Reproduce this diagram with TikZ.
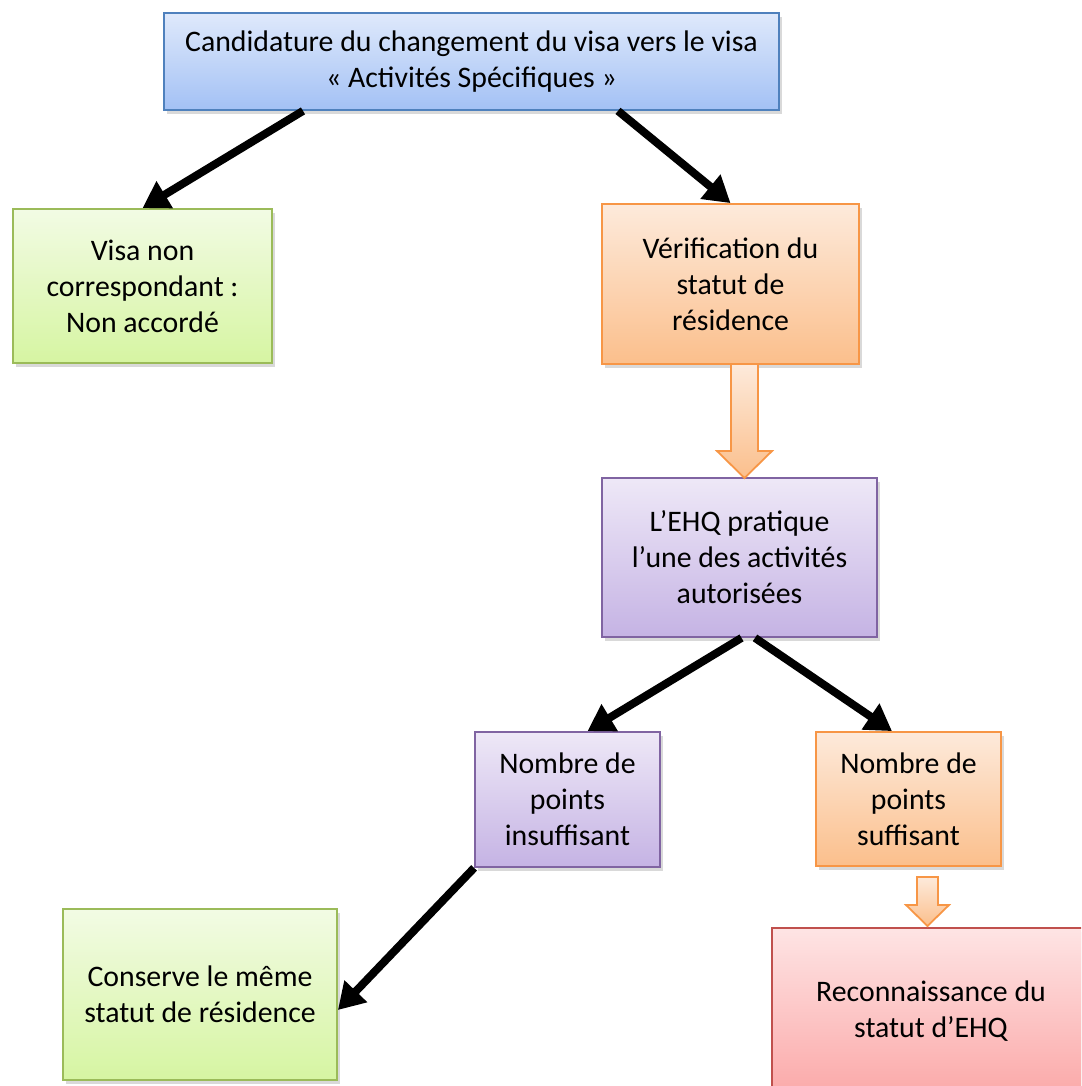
\documentclass[tikz,border=0pt]{standalone}
\usepackage{fontspec}
\setmainfont{Carlito}
\usetikzlibrary{arrows.meta,shadows}

\definecolor{blueT}{HTML}{DFE9FB}
\definecolor{blueB}{HTML}{A3C1F5}
\definecolor{blueL}{HTML}{4F81BD}
\definecolor{greenT}{HTML}{F2FBE4}
\definecolor{greenB}{HTML}{D6F5A2}
\definecolor{greenL}{HTML}{9BBB59}
\definecolor{orangeT}{HTML}{FDEADB}
\definecolor{orangeB}{HTML}{FBBF8C}
\definecolor{orangeL}{HTML}{F79646}
\definecolor{purpleT}{HTML}{EEE8F7}
\definecolor{purpleB}{HTML}{C5B3E4}
\definecolor{purpleL}{HTML}{8064A2}
\definecolor{redT}{HTML}{FEE4E4}
\definecolor{redB}{HTML}{FBA9A9}
\definecolor{redL}{HTML}{C0504D}

\tikzset{
  box/.style={draw,line width=0.9pt,inner sep=0pt,align=center,
    font=\fontsize{14.9pt}{18pt}\selectfont,
    drop shadow={shadow xshift=1.5pt,shadow yshift=-2pt,opacity=0.25,fill=black!60}},
  bluebox/.style={box,draw=blueL,top color=blueT,bottom color=blueB},
  greenbox/.style={box,draw=greenL,top color=greenT,bottom color=greenB},
  orangebox/.style={box,draw=orangeL,top color=orangeT,bottom color=orangeB},
  purplebox/.style={box,draw=purpleL,top color=purpleT,bottom color=purpleB},
  redbox/.style={box,draw=redL,top color=redT,bottom color=redB},
  flow/.style={line width=4pt,-{Triangle[length=13pt,width=15pt]}},
  blockarrow/.style={draw=orangeL,line width=0.9pt,line join=miter,top color=orangeT,bottom color=orangeB}
}

\begin{document}
\begin{tikzpicture}[x=0.5pt,y=-0.5pt]
\useasboundingbox (0,0) rectangle (1081,1086);
\clip (0,0) rectangle (1081,1086);

\node[bluebox,minimum width=307.5pt,minimum height=48.5pt] (cand) at (471.5,61.5)
  {Candidature du changement du visa vers le visa\\«~Activités Spécifiques~»};

\node[greenbox,minimum width=129.5pt,minimum height=77pt] (visa) at (142.5,286)
  {Visa non\\correspondant :\\Non accordé};
\node[orangebox,minimum width=128.5pt,minimum height=80pt] (verif) at (730.5,284)
  {Vérification du\\statut de\\résidence};

\node[purplebox,minimum width=137.5pt,minimum height=79.5pt] (ehq) at (739.5,557.5)
  {L’EHQ pratique\\l’une des activités\\autorisées};

\node[purplebox,minimum width=92.5pt,minimum height=67.5pt] (insuf) at (567.5,799.5)
  {Nombre de\\points\\insuffisant};
\node[orangebox,minimum width=92.5pt,minimum height=67pt] (suff) at (908.5,799)
  {Nombre de\\points\\suffisant};

\node[greenbox,minimum width=137pt,minimum height=85.5pt] (conserve) at (200,994.5)
  {Conserve le même\\statut de résidence};
\node[redbox,minimum width=159pt,minimum height=83.5pt] (recon) at (931,1011.5)
  {Reconnaissance du\\statut d’EHQ};

% black arrows
\draw[flow] ([xshift=-84.25pt]cand.south) -- (visa.north);
\draw[flow] ([xshift=73.25pt]cand.south) -- (verif.north);
\draw[flow] ([xshift=1pt]ehq.south) -- ([xshift=10pt]insuf.north);
\draw[flow] ([xshift=7.75pt]ehq.south) -- ([xshift=-8.25pt]suff.north);
\draw[flow] (insuf.south west) -- ([yshift=-7.75pt]conserve.east);

% block arrows
\draw[blockarrow] (731,364) -- (731,451) -- (717,451) -- (744.5,478) -- (772,451) -- (758,451) -- (758,364) -- cycle;
\draw[blockarrow] (917,877) -- (917,905) -- (906,905) -- (927.5,926) -- (949,905) -- (938,905) -- (938,877) -- cycle;
\end{tikzpicture}
\end{document}
